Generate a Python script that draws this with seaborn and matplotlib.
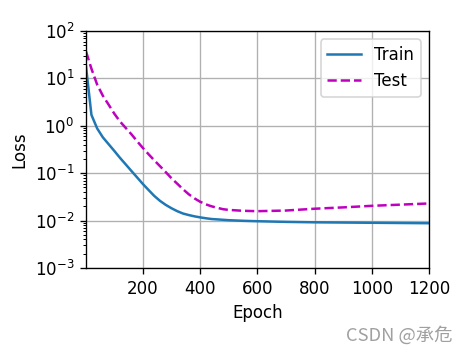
import matplotlib
matplotlib.use("Agg")
import matplotlib.pyplot as plt
import seaborn as sns
import pandas as pd

epochs = [1, 20, 40, 60, 80, 100, 120, 140, 160, 180, 200, 220, 240, 260, 280,
          300, 320, 340, 360, 380, 400, 420, 440, 460, 480, 500, 550, 600, 700,
          800, 900, 1000, 1100, 1200]
train_loss = [17.9, 1.7, 0.88, 0.57, 0.41, 0.295, 0.21, 0.153, 0.111, 0.081,
              0.059, 0.044, 0.033, 0.026, 0.0214, 0.0182, 0.0158, 0.0141,
              0.0131, 0.0123, 0.0117, 0.0112, 0.0108, 0.0106, 0.0104, 0.0102,
              0.0099, 0.0097, 0.0094, 0.0092, 0.0091, 0.0090, 0.0089, 0.0088]
test_loss = [37, 16, 7.4, 4.3, 2.8, 1.8, 1.23, 0.9, 0.66, 0.47, 0.34, 0.25,
             0.186, 0.14, 0.105, 0.078, 0.06, 0.046, 0.036, 0.0295, 0.025,
             0.022, 0.02, 0.0186, 0.0174, 0.0168, 0.0161, 0.0158, 0.0163,
             0.0178, 0.019, 0.0205, 0.0217, 0.023]
series_names = ["Train", "Test"]

df = pd.DataFrame({"epoch": epochs, "train": train_loss, "test": test_loss})

dpi = 120
fig = plt.figure(figsize=(474 / dpi, 355 / dpi), dpi=dpi)
ax = fig.add_axes([86 / 474, 1 - 268 / 355, (429 - 86) / 474, (268 - 31) / 355])

sns.lineplot(data=df, x="epoch", y="train", ax=ax, color="#1f77b4",
             linewidth=1.5, label=series_names[0])
sns.lineplot(data=df, x="epoch", y="test", ax=ax, color="m",
             linestyle="--", linewidth=1.5, label=series_names[1])

ax.set_yscale("log")
ax.set_xlim(1, 1200)
ax.set_ylim(1e-3, 1e2)
ax.set_xlabel("Epoch")
ax.set_ylabel("Loss")
ax.grid(True)
ax.legend(loc="upper right")

fig.text(453 / 474, 1 - 345 / 355, "CSDN @承危", ha="right", va="bottom",
         color="#a0a0a0", fontsize=11, family=["Noto Sans CJK SC", "DejaVu Sans"])

fig.savefig("out.png", dpi=dpi)
